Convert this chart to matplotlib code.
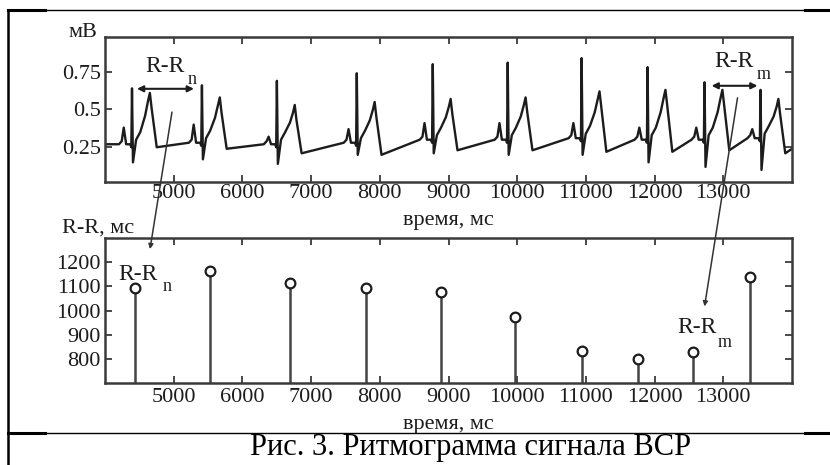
import matplotlib
matplotlib.use('Agg')
import matplotlib.pyplot as plt
from matplotlib.patches import ConnectionPatch
from matplotlib.lines import Line2D

plt.rcParams['font.family'] = ['Liberation Serif', 'DejaVu Serif']

# ECG trace: R-peak times (ms) and per-beat wave amplitudes (mV)
r_times = [4393, 5411, 6502, 7665, 8771, 9862, 10938, 11898, 12727, 13542]
r_amp = [0.64, 0.66, 0.69, 0.74, 0.80, 0.81, 0.84, 0.78, 0.68, 0.63]
s_amp = [0.15, 0.17, 0.14, 0.20, 0.21, 0.20, 0.20, 0.15, 0.12, 0.10]
p_amp = [0.38, 0.40, 0.32, 0.37, 0.41, 0.41, 0.41, 0.38, 0.38, 0.37]
t_amp = [0.61, 0.58, 0.53, 0.55, 0.57, 0.58, 0.62, 0.63, 0.63, 0.57]
trough_amp = [0.25, 0.24, 0.21, 0.20, 0.23, 0.23, 0.22, 0.22, 0.23, 0.21]
base_amp = [0.27, 0.28, 0.27, 0.28, 0.30, 0.30, 0.31, 0.30, 0.30, 0.31]
trace_start = (4000, 0.27)
trace_end = (14000, 0.24)

# one beat: offset from R (ms)
beat_offsets = [-190, -150, -120, -85, -25, -10, 0, 14, 60, 120, 190, 235, 260, 285, 360]

# rhythmogram: R-R intervals (ms)
rr_times = [4436, 5527, 6690, 7796, 8887, 9964, 10938, 11753, 12553, 13382]
rr_values = [1092, 1162, 1112, 1092, 1075, 975, 833, 800, 829, 1137]

x_ticks = [5000, 6000, 7000, 8000, 9000, 10000, 11000, 12000, 13000]
ecg_ticks = [0.25, 0.5, 0.75]
ecg_tick_labels = ['0.25', '0.5', '0.75']
rr_ticks = [800, 900, 1000, 1100, 1200]

INK = '#1c1c1c'
GREY = '#3a3a3a'


def beat_values(b, p, r, s, tw, tr):
    return [b, b + 0.02, p, b, b, b - 0.02, r, s,
            b + 0.03, b + 0.08, b + 0.55 * (tw - b), tw - 0.05, tw,
            tw - 0.1, tr]


X = [trace_start[0]]
Y = [trace_start[1]]
for i in range(len(r_times)):
    vals = beat_values(base_amp[i], p_amp[i], r_amp[i], s_amp[i],
                       t_amp[i], trough_amp[i])
    for off, v in zip(beat_offsets, vals):
        X.append(r_times[i] + off)
        Y.append(v)
X.append(trace_end[0])
Y.append(trace_end[1])

fig = plt.figure(figsize=(8.3, 4.65), dpi=100)
W, H = 830.0, 465.0

ax1 = fig.add_axes([105 / W, 1 - 182 / H, 687 / W, 145 / H])
ax2 = fig.add_axes([105 / W, 1 - 383 / H, 687 / W, 145 / H])

ax1.plot(X, Y, color=INK, lw=1.7)
ax1.set_xlim(4000, 14000)
ax1.set_ylim(0.02, 0.98)
ax1.set_yticks(ecg_ticks)
ax1.set_yticklabels(ecg_tick_labels)

ml, sl, bl = ax2.stem(rr_times, rr_values, bottom=700, basefmt=' ')
plt.setp(sl, color='#444444', lw=1.8)
plt.setp(ml, marker='o', markersize=7, markerfacecolor='white',
         markeredgecolor=INK, markeredgewidth=1.6)
ax2.set_xlim(4000, 14000)
ax2.set_ylim(700, 1300)
ax2.set_yticks(rr_ticks)

for ax in (ax1, ax2):
    ax.set_xticks(x_ticks)
    ax.tick_params(direction='in', top=True, right=True, length=5,
                   width=1.3, color=GREY, labelsize=16, labelcolor=INK)
    ax.tick_params(axis='y', pad=3)
    for sp in ax.spines.values():
        sp.set_color(GREY)
        sp.set_linewidth(1.8)
ax1.tick_params(axis='x', pad=1.5)
ax2.tick_params(axis='x', pad=3.5)

ax1.set_xlabel('время, мс', fontsize=16, color=INK, va='center')
ax1.xaxis.set_label_coords(0.5, -0.265)
ax2.set_xlabel('время, мс', fontsize=16, color=INK, va='center')
ax2.xaxis.set_label_coords(0.5, -0.285)
ax1.set_ylabel('мВ', fontsize=16, color=INK, rotation=0, ha='center', va='center')
ax1.yaxis.set_label_coords(-0.032, 1.034)
ax2.set_ylabel('R-R, мс', fontsize=16, color=INK, rotation=0, ha='center', va='center')
ax2.yaxis.set_label_coords(-0.01, 1.069)

# interval annotations on the ECG
ax1.annotate('', xy=(4465, 0.637), xytext=(5295, 0.637),
             arrowprops=dict(arrowstyle='<|-|>', color=INK, lw=1.5,
                             mutation_scale=9, shrinkA=0, shrinkB=0))
ax1.annotate('', xy=(12829, 0.657), xytext=(13498, 0.657),
             arrowprops=dict(arrowstyle='<|-|>', color=INK, lw=1.5,
                             mutation_scale=9, shrinkA=0, shrinkB=0))
ax1.text(4582, 0.783, 'R-R', fontsize=17, color=INK, ha='left', va='center')
ax1.text(5207, 0.697, 'n', fontsize=13, color=INK, ha='left', va='center')
ax1.text(12873, 0.817, 'R-R', fontsize=17, color=INK, ha='left', va='center')
ax1.text(13484, 0.73, 'm', fontsize=13, color=INK, ha='left', va='center')

ax2.text(4189, 1150, 'R-R', fontsize=17, color=INK, ha='left', va='center')
ax2.text(4844, 1100, 'n', fontsize=13, color=INK, ha='left', va='center')
ax2.text(12335, 929, 'R-R', fontsize=17, color=INK, ha='left', va='center')
ax2.text(12916, 867, 'm', fontsize=13, color=INK, ha='left', va='center')

# arrows linking an interval on the ECG to its point on the rhythmogram
for xa, xb in (((4975, 0.483), (4655, 1254)), ((13207, 0.577), (12727, 1017))):
    con = ConnectionPatch(xyA=xa, coordsA=ax1.transData,
                          xyB=xb, coordsB=ax2.transData,
                          arrowstyle='-|>', mutation_scale=7,
                          color='#333333', lw=1.1, shrinkA=0, shrinkB=0)
    fig.add_artist(con)

# table frame around the figure
def hline(y, x0, x1, lw):
    fig.add_artist(Line2D([x0 / W, x1 / W], [1 - y / H, 1 - y / H],
                          color='black', lw=lw, transform=fig.transFigure))

hline(10, 8, 830, 1.0)
hline(10, 8, 45, 2.2)
hline(10, 805, 830, 2.2)
hline(433, 8, 830, 1.0)
hline(433, 8, 45, 2.2)
hline(433, 805, 830, 2.2)
fig.add_artist(Line2D([8 / W, 8 / W], [1 - 10 / H, 0], color='black',
                      lw=1.8, transform=fig.transFigure))

fig.text(471 / W, 1 - 447 / H, 'Рис. 3. Ритмограмма сигнала ВСР',
         fontsize=22, color='black', ha='center', va='center')

plt.savefig('out.png', dpi=100)
